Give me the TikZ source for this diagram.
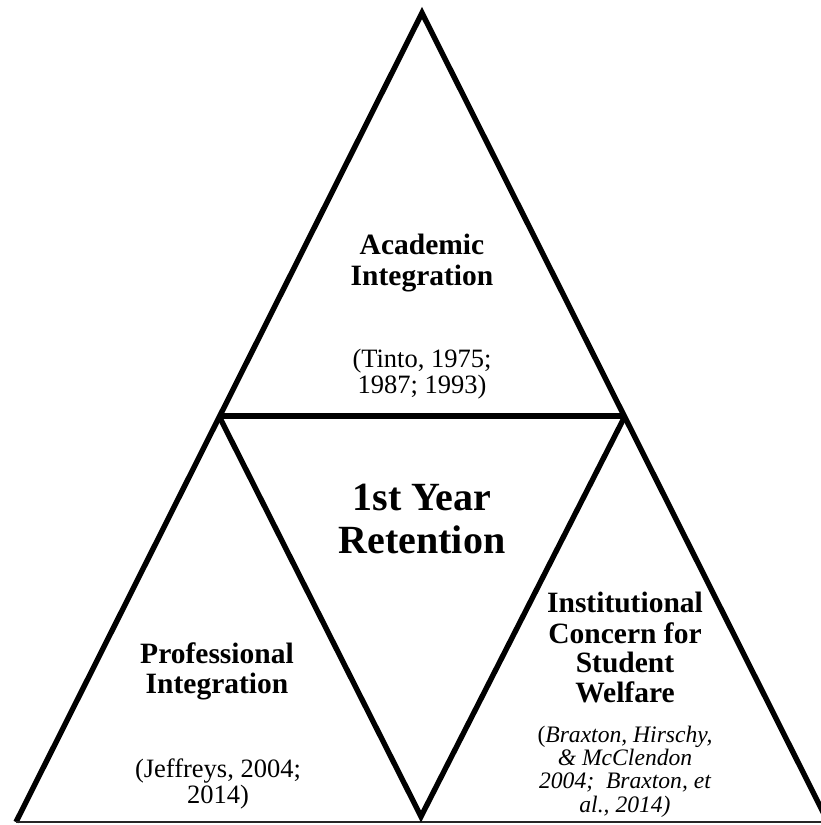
\documentclass[tikz,border=0pt]{standalone}
\usepackage{fontspec}
\setmainfont{Liberation Serif}
\begin{document}
\begin{tikzpicture}[x=1pt,y=-1pt,
  edge/.style={line width=5.4pt, line join=miter, line cap=butt},
  baseedge/.style={line width=1.6pt, black!85},
  txt/.style={inner sep=0pt, anchor=base},
  head/.style={txt, font=\fontsize{29.5}{32}\selectfont\bfseries},
  title/.style={txt, font=\fontsize{40}{44}\selectfont\bfseries},
  cite/.style={txt, font=\fontsize{26.5}{28}\selectfont},
  citeit/.style={txt, font=\fontsize{23.6}{24}\selectfont\itshape}]
\useasboundingbox (0,0) rectangle (821,825);

% corner points of the large triangle and the inner one
\coordinate (apex) at (422,13);
\coordinate (bl) at (16,822);
\coordinate (br) at (828,822);
\coordinate (ml) at (219,416);
\coordinate (mr) at (625,416);
\coordinate (mb) at (421,816.5);
\coordinate (edge) at (821,822);

% outline
\draw[edge] (bl) -- (apex) -- (br);
\draw[baseedge] (bl) -- (edge);
\draw[edge] (ml) -- (mr);
\draw[edge] (ml) -- (mb) -- (mr);

% top triangle
\node[head] (acad1) at (422,254) {Academic};
\node[head] (acad2) at (422,285) {Integration};
\node[cite] (tinto1) at (422,367) {(Tinto, 1975;};
\node[cite] (tinto2) at (422,393) {1987; 1993)};

% centre triangle
\node[title] (ret1) at (422,510) {1st Year};
\node[title] (ret2) at (422,553) {Retention};

% left triangle
\node[head] (prof1) at (217,663) {Professional};
\node[head] (prof2) at (217,693) {Integration};
\node[cite] (jeff1) at (218,777) {(Jeffreys, 2004;};
\node[cite] (jeff2) at (218,803) {2014)};

% right triangle
\node[head] (inst1) at (625,612) {Institutional};
\node[head] (inst2) at (625,643) {Concern for};
\node[head] (inst3) at (625,672) {Student};
\node[head] (inst4) at (625,702) {Welfare};
\node[citeit] (brax1) at (625,742) {\upshape(\itshape Braxton, Hirschy,};
\node[citeit] (brax2) at (625,765) {\& McClendon};
\node[citeit] (brax3) at (625,788) {2004;\ \ Braxton, et};
\node[citeit] (brax4) at (625,812) {al., 2014)};
\end{tikzpicture}
\end{document}
